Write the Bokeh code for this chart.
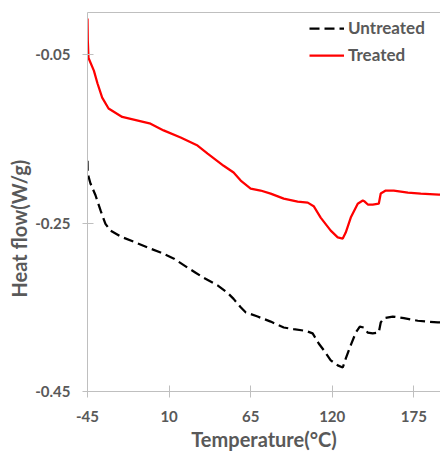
from bokeh.plotting import figure
from bokeh.models import (LinearAxis, FixedTicker, Range1d, Legend, LegendItem, Title)
from bokeh.embed import file_html
from bokeh.resources import INLINE

# ---- data ----
untreated_x = [-45.0, -44.9, -43.0, -39.6, -36.2, -32.9, -29.5, -22.7, -14.0, -4.5, 4.3, 13.0,
               22.5, 27.9, 33.3, 42.7, 49.5, 53.5, 58.3, 61.6, 69.7, 78.5, 87.3, 94.0, 102.1,
               106.8, 110.9, 114.3, 119.0, 123.7, 127.1, 129.1, 132.5, 135.9, 138.6, 141.2,
               143.9, 147.3, 151.4, 152.7, 154.8, 160.8, 168.3, 177.7, 191.2, 193.0]
untreated_y = [-0.176, -0.191, -0.203, -0.217, -0.235, -0.251, -0.259, -0.266, -0.272, -0.279,
               -0.285, -0.292, -0.303, -0.309, -0.315, -0.324, -0.333, -0.340, -0.350, -0.356,
               -0.361, -0.367, -0.374, -0.376, -0.378, -0.381, -0.393, -0.401, -0.413, -0.419,
               -0.4215, -0.411, -0.395, -0.380, -0.373, -0.374, -0.380, -0.381, -0.380, -0.368,
               -0.363, -0.361, -0.363, -0.366, -0.368, -0.368]

treated_x = [-45.0, -44.9, -44.8, -44.3, -40.7, -38.3, -35.1, -30.8, -21.6, -2.5, 6.3, 17.8,
             29.2, 36.0, 46.8, 53.5, 58.3, 65.0, 71.7, 78.5, 87.3, 96.7, 103.5, 107.5, 112.2,
             119.0, 123.7, 127.1, 129.1, 132.5, 137.2, 140.6, 141.9, 144.0, 147.3, 151.4,
             152.7, 156.1, 161.5, 171.0, 179.7, 191.9, 193.0]
treated_y = [-0.007, -0.020, -0.033, -0.054, -0.069, -0.084, -0.101, -0.114, -0.124, -0.132,
             -0.140, -0.1485, -0.158, -0.1675, -0.182, -0.190, -0.1996, -0.209, -0.2114, -0.215,
             -0.221, -0.2245, -0.2257, -0.230, -0.2435, -0.259, -0.267, -0.2684, -0.2613,
             -0.2435, -0.227, -0.2233, -0.2245, -0.228, -0.228, -0.227, -0.215, -0.2114,
             -0.2114, -0.2138, -0.215, -0.2162, -0.2163]

x_ticks = [-45, 10, 65, 120, 175]
x_tick_labels = ["-45", "10", "65", "120", "175"]
y_ticks = [-0.45, -0.25, -0.05]
y_tick_labels = ["-0.45", "-0.25", "-0.05"]
series_names = ["Untreated", "Treated"]
x_title = "Temperature(°C)"
y_title = "Heat flow(W/g)"

GRAY = "#bfbfbf"
TXT = "#595959"
FONT = "Lato"

p = figure(width=440, height=453, output_backend="svg", toolbar_location=None,
           x_range=Range1d(-45, 193), y_range=Range1d(-0.45, 0.0),
           min_border_left=87, min_border_right=0, min_border_top=12, min_border_bottom=62)
p.outline_line_color = None
p.grid.visible = False
p.background_fill_color = "white"

r_u = p.line(untreated_x, untreated_y, line_color="black", line_width=2.25, line_dash="10 5")
r_t = p.line(treated_x, treated_y, line_color="#ff0000", line_width=2.25)

# axes
xa = p.xaxis[0]
xa.ticker = FixedTicker(ticks=x_ticks)
xa.major_label_overrides = {t: l for t, l in zip(x_ticks, x_tick_labels)}
ya = p.yaxis[0]
ya.ticker = FixedTicker(ticks=y_ticks)
ya.major_label_overrides = {t: l for t, l in zip(y_ticks, y_tick_labels)}
for ax in (xa, ya):
    ax.axis_line_color = GRAY
    ax.axis_line_width = 1
    ax.major_tick_line_color = GRAY
    ax.major_tick_in = 6
    ax.major_tick_out = 6
    ax.minor_tick_line_color = None
    ax.major_label_text_font = FONT
    ax.major_label_text_font_style = "bold"
    ax.major_label_text_font_size = "15px"
    ax.major_label_text_color = TXT
ya.major_tick_out = 5
ya.major_label_standoff = 12
xa.major_label_standoff = 13

# top border line
top = LinearAxis(ticker=FixedTicker(ticks=[]), major_tick_in=0, major_tick_out=0,
                 minor_tick_in=0, minor_tick_out=0, major_label_text_font_size="0px",
                 axis_line_color=GRAY, axis_line_width=1)
p.add_layout(top, "above")

# x title
xt = Title(text=x_title, align="center", vertical_align="bottom", text_font=FONT,
           text_font_style="bold", text_font_size="20px", text_color=TXT, standoff=0)
p.add_layout(xt, "below")

# y title (placed lower than centre, like the reference)
yt = Title(text=y_title, align="left", offset=94, text_font=FONT, text_font_style="bold",
           text_font_size="20px", text_color=TXT, standoff=3)
p.add_layout(yt, "left")

legend = Legend(items=[LegendItem(label=series_names[0], renderers=[r_u]),
                       LegendItem(label=series_names[1], renderers=[r_t])],
                location=(222, 326), glyph_width=35, glyph_height=20, label_height=20,
                spacing=6, padding=4, margin=0, label_standoff=4,
                label_text_font=FONT, label_text_font_style="bold", label_text_font_size="17px",
                label_text_color=TXT, border_line_color=None, background_fill_alpha=0)
p.add_layout(legend)

open("out.html", "w").write(file_html(p, INLINE))
